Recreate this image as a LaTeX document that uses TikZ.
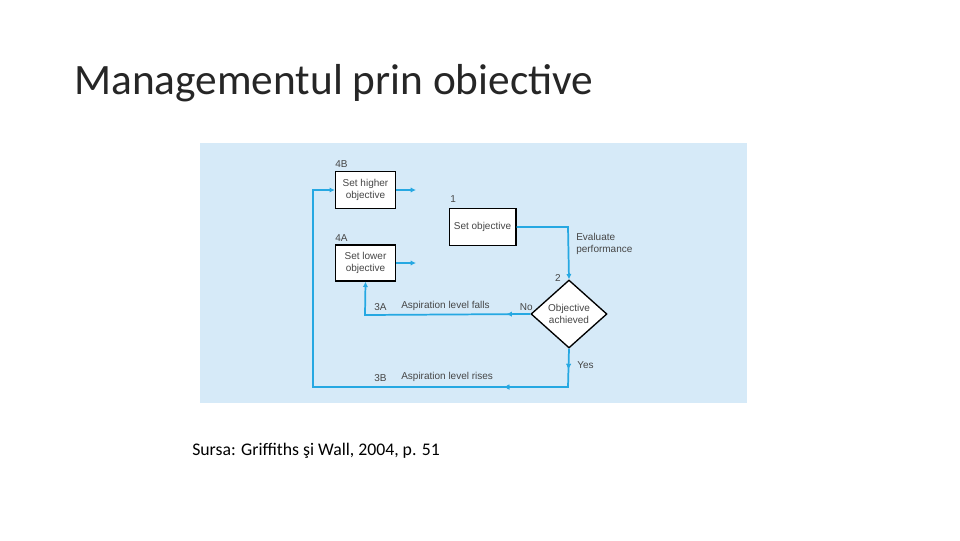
\documentclass[tikz,border=0pt]{standalone}
\usepackage{fontspec}
\setmainfont{Carlito}
\newfontfamily\dfont{Liberation Sans}
\usetikzlibrary{shapes.geometric,arrows.meta,decorations.markings}
\definecolor{bgblue}{RGB}{214,234,248}
\definecolor{lblue}{RGB}{38,168,226}
\definecolor{dtext}{RGB}{70,70,70}
\begin{document}
\begin{tikzpicture}[x=0.75pt,y=-0.75pt,
  box/.style={draw=black,line width=1pt,fill=white,minimum width=45pt,minimum height=28pt,inner sep=1pt,align=center,font=\dfont\fontsize{7.5}{8.5}\selectfont,text=dtext},
  lbl/.style={font=\dfont\fontsize{7.5}{8.5}\selectfont,text=dtext,inner sep=0pt},
  flow/.style={draw=lblue,line width=1.3pt},
  tip/.style={-{Latex[length=4pt,width=4pt]}},
  mid/.style={postaction={decorate},decoration={markings,mark=at position #1 with {\arrow{Latex[length=4pt,width=4pt]}}}}]
\useasboundingbox (0,0) rectangle (960,540);
\fill[white] (0,0) rectangle (960,540);
\node[anchor=base west,font=\fontsize{32.5}{37}\selectfont,inner sep=0pt,text=black!85] (title) at (74,94) {Managementul prin obiective};
\fill[bgblue] (200,143) rectangle (747,403);
\node[box,minimum width=45pt,minimum height=28pt] (hb) at (365.5,190) {Set higher\\objective};
\node[box,minimum width=45pt,minimum height=27pt] (lb) at (365.5,263) {Set lower\\objective};
\node[box,minimum width=50pt,minimum height=28pt] (so) at (482.5,227) {Set objective};
\node[diamond,draw=black,line width=1pt,fill=white,minimum width=57pt,minimum height=51pt,inner sep=0pt,align=center,font=\dfont\fontsize{7.5}{8.5}\selectfont,text=dtext] (dm) at (569,314) {Objective\\achieved};
\node[lbl,anchor=south west] (l4b) at (335,168) {4B};
\node[lbl,anchor=south west] (l1) at (450,203) {1};
\node[lbl,anchor=south west] (l4a) at (335,242) {4A};
\node[lbl,anchor=south east] (l2) at (561,282) {2};
\node[lbl,anchor=west,align=left] (ev) at (576,244) {Evaluate\\performance};
\node[lbl,anchor=south east] (no) at (533,311) {No};
\node[lbl,anchor=south west] (l3a) at (374,311) {3A};
\node[lbl,anchor=south west] (t3a) at (401,311) {Aspiration level falls};
\node[lbl,anchor=west] (yes) at (577,365) {Yes};
\node[lbl,anchor=south west] (l3b) at (374,382) {3B};
\node[lbl,anchor=south west] (t3b) at (401,382) {Aspiration level rises};
\coordinate (c1) at (568,227);
\coordinate (c2) at (365,315);
\coordinate (c3) at (568,387);
\coordinate (c4) at (313,387);
\coordinate (c5) at (313,190);
\coordinate (e1) at (416,190);
\coordinate (e2) at (416,263);
\draw[flow,tip] (so.east) -- (c1) -- (dm.north);
\draw[flow,tip,mid=0.12] (dm.west) -- (c2) -- (lb.south);
\draw[flow,tip,mid=0.04,mid=0.2] (dm.south) -- (c3) -- (c4) -- (c5) -- (hb.west);
\draw[flow,tip] (hb.east) -- (e1);
\draw[flow,tip] (lb.east) -- (e2);
\node[anchor=base west,font=\fontsize{13.3}{15}\selectfont,inner sep=0pt] (src) at (192,455) {Sursa: Griffiths şi Wall, 2004, p. 51};
\end{tikzpicture}
\end{document}
